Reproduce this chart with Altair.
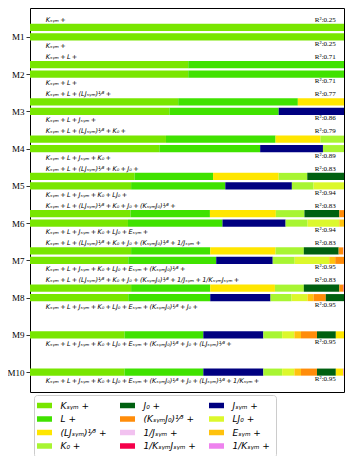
import altair as alt
import pandas as pd

# ---- data ----
MODELS = [1, 2, 3, 4, 5, 6, 7, 8, 9, 10]

# term order of the two model families
ORDER_UP = ["Ksym", "L", "LJsym13", "K0", "J0", "KsymJ013", "invJsym", "invKsymJsym"]
ORDER_LO = ["Ksym", "L", "Jsym", "K0", "LJ0", "Esym", "KsymJ013", "J0", "LJsym13", "invKsym"]

# relative contribution of each term (upper bars: M1..M8)
UP_WIDTHS = [
    [1.0],
    [0.504, 0.496],
    [0.472, 0.381, 0.147],
    [0.433, 0.349, 0.143, 0.075],
    [0.333, 0.250, 0.209, 0.091, 0.117],
    [0.320, 0.253, 0.210, 0.091, 0.111, 0.015],
    [0.322, 0.252, 0.208, 0.090, 0.111, 0.015, 0.002],
    [0.322, 0.252, 0.206, 0.092, 0.113, 0.013, 0.001, 0.001],
]
# lower bars: M1..M10
LO_WIDTHS = [
    [1.0],
    [0.504, 0.496],
    [0.444, 0.348, 0.208],
    [0.412, 0.321, 0.200, 0.067],
    [0.322, 0.300, 0.212, 0.069, 0.097],
    [0.312, 0.301, 0.201, 0.070, 0.101, 0.015],
    [0.313, 0.280, 0.180, 0.070, 0.110, 0.019, 0.028],
    [0.313, 0.261, 0.192, 0.067, 0.051, 0.019, 0.039, 0.058],
    [0.301, 0.251, 0.191, 0.060, 0.039, 0.021, 0.051, 0.060, 0.026],
    [0.301, 0.251, 0.191, 0.060, 0.039, 0.021, 0.051, 0.060, 0.024, 0.002],
]
R2_UP = [0.25, 0.71, 0.77, 0.79, 0.83, 0.83, 0.83, 0.83]
R2_LO = [0.25, 0.71, 0.86, 0.89, 0.94, 0.94, 0.95, 0.95, 0.95, 0.95]

LABELS = {
    "Ksym": "Kₛᵧₘ", "L": "L", "LJsym13": "(LJₛᵧₘ)¹⁄³", "K0": "K₀", "J0": "J₀",
    "KsymJ013": "(KₛᵧₘJ₀)¹⁄³", "invJsym": "1/Jₛᵧₘ", "invKsymJsym": "1/KₛᵧₘJₛᵧₘ",
    "Jsym": "Jₛᵧₘ", "LJ0": "LJ₀", "Esym": "Eₛᵧₘ", "invKsym": "1/Kₛᵧₘ",
}
# legend order (column-major, 3 columns x 4 rows)
LEGEND_KEYS = ["Ksym", "L", "LJsym13", "K0", "J0", "KsymJ013", "invJsym",
               "invKsymJsym", "Jsym", "LJ0", "Esym", "invKsym"]
COLORS = {
    "Ksym": "#78e600", "L": "#40e200", "LJsym13": "#ffe600", "K0": "#a8f532",
    "J0": "#006010", "KsymJ013": "#ff8c0a", "invJsym": "#f2c2f0",
    "invKsymJsym": "#f5004a", "Jsym": "#000080", "LJ0": "#dcf82c",
    "Esym": "#ffc20e", "invKsym": "#ee82ee",
}

# ---- build tables ----
SEP = "\u2009+\u2009"          # math-style spacing around "+"
UP_OFF, HALF = -0.254, 0.095
rows = []
def add_bar(m, order, widths, yc):
    acc = 0.0
    for i, w in enumerate(widths):
        rows.append(dict(term=LABELS[order[i]] + " +", idx=i, x0=acc, x1=acc + w,
                         y0=yc - HALF, y1=yc + HALF))
        acc += w

texts, r2s = [], []
for k, w in enumerate(UP_WIDTHS):
    m = MODELS[k]
    add_bar(m, ORDER_UP, w, m + UP_OFF)
    texts.append(dict(x=0.05, y=m - 0.46,
                      label=SEP.join(LABELS[t] for t in ORDER_UP[:len(w)]) + "\u2009+"))
    r2s.append(dict(x=0.974, y=m - 0.46, label=f"R²:{R2_UP[k]:.2f}"))
for k, w in enumerate(LO_WIDTHS):
    m = MODELS[k]
    add_bar(m, ORDER_LO, w, m)
    texts.append(dict(x=0.05, y=m + 0.245,
                      label=SEP.join(LABELS[t] for t in ORDER_LO[:len(w)]) + "\u2009+"))
    r2s.append(dict(x=0.974, y=m + 0.19, label=f"R²:{R2_LO[k]:.2f}"))

bars = pd.DataFrame(rows)
tdf = pd.DataFrame(texts)
rdf = pd.DataFrame(r2s)

xscale = alt.Scale(domain=[0, 1], nice=False, zero=False)
yscale = alt.Scale(domain=[0.225, 10.534], reverse=True, nice=False, zero=False)
yaxis = alt.Axis(values=MODELS, labelExpr="'M' + datum.value", title=None, grid=False,
                 domain=False, tickSize=4, tickColor="black", tickWidth=0.8,
                 labelFont="Liberation Serif", labelFontSize=9, labelColor="black",
                 labelPadding=2)

legend_labels = [LABELS[k] + " +" for k in LEGEND_KEYS]
legend_colors = [COLORS[k] for k in LEGEND_KEYS]

bar_layer = alt.Chart(bars).mark_rect().encode(
    x=alt.X("x0:Q", scale=xscale, axis=None),
    x2="x1:Q",
    y=alt.Y("y0:Q", scale=yscale, axis=yaxis),
    y2="y1:Q",
    color=alt.Color("term:N", scale=alt.Scale(domain=legend_labels, range=legend_colors),
                    legend=alt.Legend(title=None, orient="none", legendX=4, legendY=387,
                                      columns=3, symbolType="M-1.5,-0.55H1.5V0.55H-1.5Z",
                                      symbolSize=100, symbolStrokeWidth=0,
                                      labelFont="DejaVu Sans", labelFontStyle="italic",
                                      labelFontSize=9, labelColor="black",
                                      labelOffset=11, rowPadding=3.5, columnPadding=12,
                                      padding=5.5, strokeColor="#cccccc", fillColor="white",
                                      cornerRadius=3, labelLimit=200)),
)

formula_layer = alt.Chart(tdf).mark_text(
    align="left", baseline="middle", font="DejaVu Sans", fontStyle="italic",
    fontSize=6.5, color="black").encode(
    x=alt.X("x:Q", scale=xscale, axis=None),
    y=alt.Y("y:Q", scale=yscale, axis=yaxis),
    text="label:N")

r2_layer = alt.Chart(rdf).mark_text(
    align="right", baseline="middle", font="Liberation Serif",
    fontSize=7, color="black").encode(
    x=alt.X("x:Q", scale=xscale, axis=None),
    y=alt.Y("y:Q", scale=yscale, axis=yaxis),
    text="label:N")

chart = alt.layer(bar_layer, formula_layer, r2_layer).properties(
    width=314, height=384, autosize="none",
    padding={"left": 22, "top": 0, "right": 1, "bottom": 64},
).configure_view(stroke="black", strokeWidth=1)

chart.save("out.html", embed_options={"renderer": "svg", "actions": False})
